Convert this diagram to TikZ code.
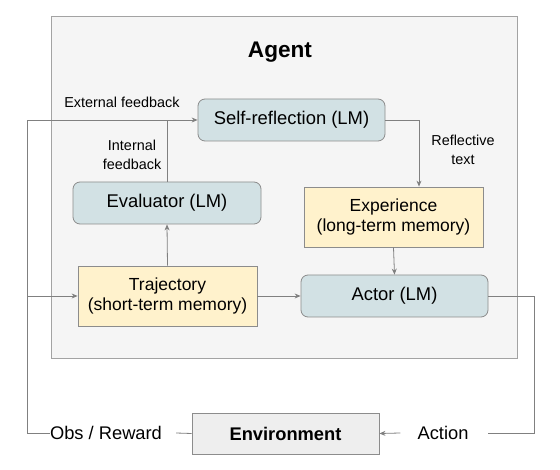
\documentclass[tikz,border=0pt]{standalone}
\usepackage{fontspec}
\setmainfont{Liberation Sans}
\usepackage{xcolor}
\usetikzlibrary{arrows.meta, positioning, calc}

\definecolor{agentbg}{HTML}{F5F5F5}
\definecolor{lmfill}{HTML}{D2E1E4}
\definecolor{memfill}{HTML}{FFF2CC}
\definecolor{envfill}{HTML}{EEEEEE}
\definecolor{edgegray}{HTML}{8C8C8C}
\definecolor{linegray}{HTML}{808080}

\begin{document}
\begin{tikzpicture}[
		x=1pt, y=-1pt,
		lm/.style={draw=edgegray, thick, fill=lmfill, rounded corners=7pt,
			minimum width=187pt, minimum height=42pt, align=center,
			font=\fontsize{18.4}{22}\selectfont},
		mem/.style={draw=edgegray, thick, fill=memfill,
			minimum width=179pt, minimum height=60pt, align=center,
			font=\fontsize{17.5}{20.5}\selectfont},
		lbl/.style={inner sep=0pt, align=center, font=\fontsize{14.4}{18.5}\selectfont},
		wire/.style={draw=linegray, thick},
		arr/.style={wire, -{Stealth[length=6pt, width=5pt]}},
	]
		\useasboundingbox (0,0) rectangle (560,470);

		% the agent frame
		\node[draw=edgegray!80, thick, fill=agentbg, minimum width=466pt,
			minimum height=342pt, inner sep=0pt] (agent) at (284,187) {};
		\node[font=\fontsize{22.6}{26}\selectfont\bfseries] (agentlab) at (280,52) {Agent};

		% language models and memories
		\node[lm] (refl) at (291.5,120) {Self-reflection (LM)};
		\node[lm, minimum width=188pt] (eval) at (167,203) {Evaluator (LM)};
		\node[mem] (exper) at (393.5,217) {Experience\\(long-term memory)};
		\node[mem] (traj) at (167.5,296) {Trajectory\\(short-term memory)};
		\node[lm] (actor) at (394.5,296) {Actor (LM)};

		% environment below the agent
		\node[draw=edgegray, thick, fill=envfill, minimum width=187pt, minimum height=41pt,
			font=\fontsize{18.3}{22}\selectfont\bfseries] (env) at (285.5,433.5) {Environment};

		% edge labels
		\node[lbl] (extfb) at (122,102) {External feedback};
		\node[lbl] (intfb) at (132,155) {Internal\\feedback};
		\node[lbl] (refltxt) at (463,150) {Reflective\\text};
		\node[inner sep=0pt, font=\fontsize{18.3}{22}\selectfont] (obs) at (106,433) {Obs / Reward};
		\node[inner sep=0pt, font=\fontsize{18.3}{22}\selectfont] (action) at (443,433) {Action};

		% outer loop corners
		\coordinate (loopl) at (27,120);
		\coordinate (loopr) at (534,433);

		% inside the agent
		\draw[arr] (traj.north) -- (eval.south);
		\draw[wire] (eval.north) -- (eval.north |- refl.west);
		\draw[arr] (refl.east) -| ([xshift=25.5pt]exper.north);
		\draw[arr] (exper.south) -- (actor.north);
		\draw[arr] (traj.east) -- (actor.west);

		% environment loop
		\draw[wire] (env.west) -- ([xshift=14pt]obs.east);
		\draw[arr] (obs.west) -| (loopl) -- (refl.west);
		\draw[arr] (traj.west -| loopl) -- (traj.west);
		\draw[wire] (actor.east) -| (loopr) -- ([xshift=19pt]action.east);
		\draw[arr] ([xshift=-17pt]action.west) -- (env.east);
\end{tikzpicture}
\end{document}
